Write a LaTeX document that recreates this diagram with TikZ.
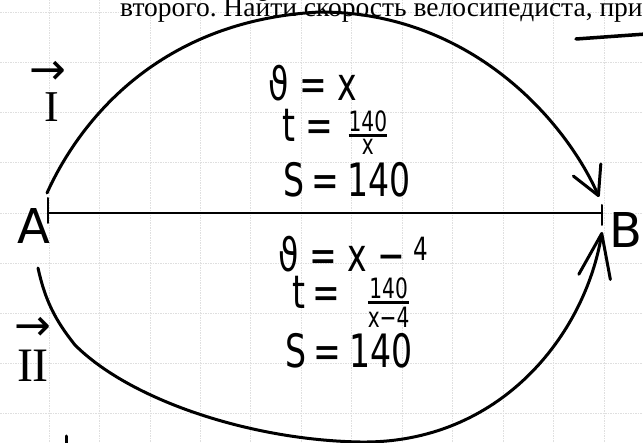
\documentclass[tikz,border=0pt]{standalone}
\usepackage{amsmath}
\usepackage{fontspec}
\setmainfont{Liberation Serif}
\newfontfamily\hand{DejaVu Sans}[FakeStretch=0.72]
\newfontfamily\handwide{DejaVu Sans}
\usetikzlibrary{positioning, arrows.meta}

\newcommand{\hfrac}[2]{$\genfrac{}{}{2.6pt}{1}{\text{\fontsize{28}{29}\selectfont #1}}{\text{\fontsize{28}{29}\selectfont #2}}$}

\tikzset{
    gridline/.style={gray!25, line width=0.7pt, dash pattern=on 1.5pt off 1pt},
    pen/.style={black, line width=3pt, line cap=round, line join=round},
    abline/.style={black, line width=1.1pt},
    tickmark/.style={pen, line width=2pt},
    formula/.style={font=\hand\fontsize{46}{50}\selectfont, anchor=base west, inner sep=0pt},
    point/.style={font=\handwide\fontsize{48}{50}\selectfont, inner sep=0pt},
    roman/.style={font=\rmfamily\fontsize{44}{46}\selectfont, inner sep=0pt},
    dirarrow/.style={font=\handwide\fontsize{44}{46}\selectfont, inner sep=0pt},
}

\begin{document}
\frenchspacing
\begin{tikzpicture}[x=1pt, y=-1pt]
    \useasboundingbox (0,0) rectangle (643,443);
    \clip (0,0) rectangle (643,443);
    % squared paper
    \foreach \k in {0,...,11}
        \draw[gridline] ({49+50.45*\k},0) -- ({49+50.45*\k},443);
    \foreach \k in {0,...,8}
        \draw[gridline] (0,{12.5+50.1*\k}) -- (643,{12.5+50.1*\k});

    % printed task, cut off
    \node[font=\fontsize{27.5}{30}\selectfont, anchor=base west, inner sep=0pt] (task) at (120,17)
        {второго. Найти скорость велосипедиста, при};
    \draw[pen, line width=3.5pt] (576,39) -- (646,34);
    \draw[pen] (66,436) -- (66,446);

    % segment AB
    \coordinate (A) at (48,213);
    \coordinate (B) at (602,213);
    \draw[abline] (A) -- (B);
    \draw[tickmark] ([yshift=15pt]A) -- ([yshift=-10pt]A);
    \draw[tickmark] ([yshift=8pt]B) -- ([yshift=-12pt]B);
    \node[point] (labA) at (34,226) {A};
    \node[point] (labB) at (626,230) {B};

    % first cyclist
    \draw[pen, -{Straight Barb[length=28pt, width=30pt, round]}]
        ([shift={(-1,-20)}]A) .. controls (80,120) and (160,20) .. (320,12)
        .. controls (470,12) and (565,120) .. ([shift={(-3,-16)}]B);
    \node[roman] (one) at (52,107) {I};
    \node[dirarrow, above=8pt of one.north, xshift=-4pt] (onearr) {→};
    \node[formula] (v1) at (268,101) {ϑ = x};
    \node[formula] (t1) at (282,142) {t =\hspace{14pt}\hfrac{140}{x}};
    \node[formula] (s1) at (283,197) {S\,=\,140};

    % second cyclist
    \draw[pen, -{Straight Barb[length=44pt, width=32pt, round]}]
        ([shift={(-10,55)}]A) .. controls (45,300) and (55,320) .. (75,345)
        .. controls (130,400) and (250,440) .. (360,442)
        .. controls (500,444) and (585,335) .. ([shift={(0,19)}]B);
    \node[roman, font=\rmfamily\fontsize{48}{50}\selectfont] (two) at (33,366) {II};
    \node[dirarrow, above=9pt of two.north] (twoarr) {→};
    \node[formula] (v2) at (278,272) {ϑ = x −\,\raisebox{11pt}{\fontsize{32}{34}\selectfont 4}};
    \node[formula] (t2) at (292,309) {t\,=\hspace{26pt}\hfrac{140}{x−4}};
    \node[formula] (s2) at (285,368) {S\,=\,140};
\end{tikzpicture}
\end{document}
